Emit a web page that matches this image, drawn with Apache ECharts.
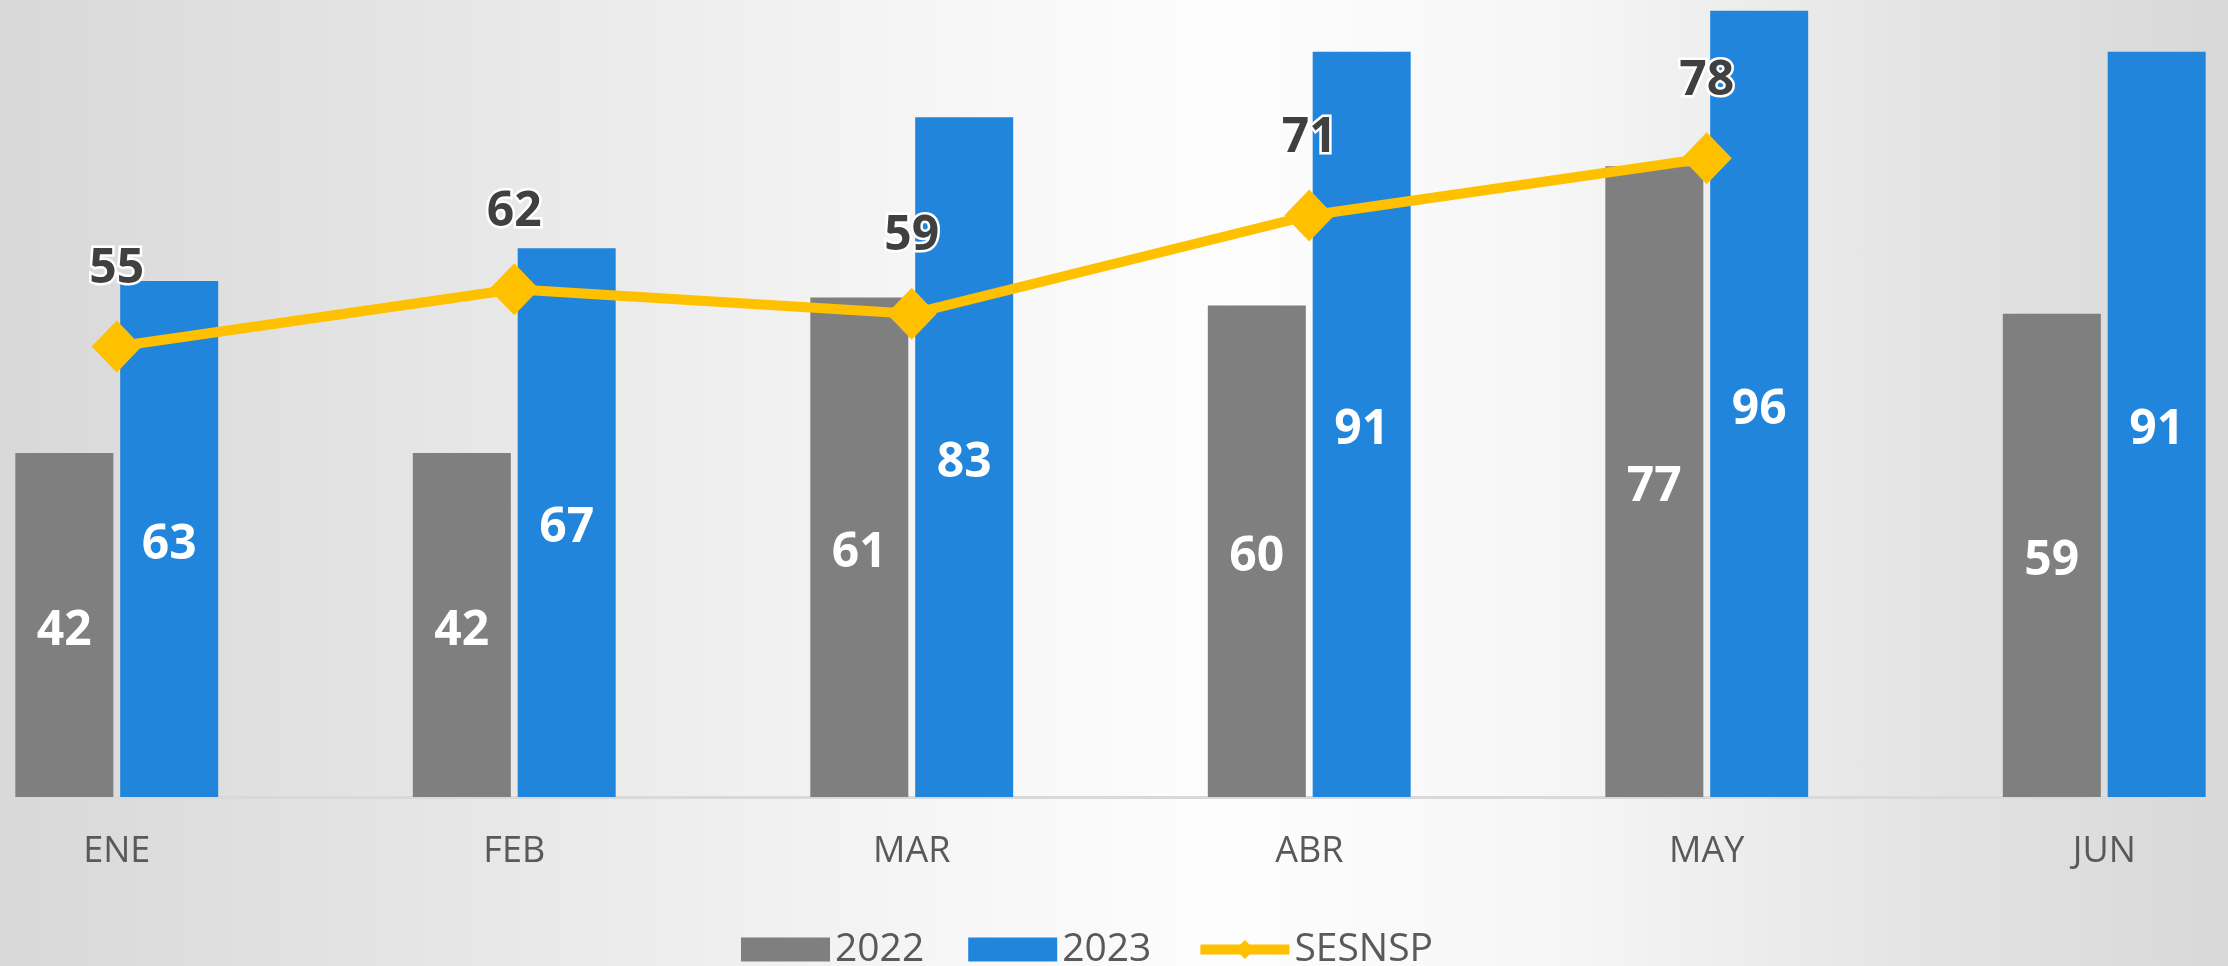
<!DOCTYPE html>
<html>
<head>
<meta charset="utf-8">
<script src="https://cdn.jsdelivr.net/npm/echarts@6/dist/echarts.min.js"></script>
<style>
  html, body { margin: 0; padding: 0; }
  body {
    width: 2228px;
    height: 966px;
    overflow: hidden;
    position: relative;
    background: linear-gradient(90deg, #d8d8d8 0%, #e6e6e6 20%, #f6f6f6 42%, #fdfdfd 55%, #f6f6f6 70%, #e4e4e4 86%, #d8d8d8 100%);
  }
  /* the source picture is cropped: the plot runs past the left, right and top edges */
  #chart {
    position: absolute;
    left: -82px;
    top: -22px;
    width: 2385px;
    height: 988px;
  }
</style>
</head>
<body>
<div id="chart"></div>
<script>
// chart data
const months = ['ENE', 'FEB', 'MAR', 'ABR', 'MAY', 'JUN']
const values2022 = [42, 42, 61, 60, 77, 59]
const values2023 = [63, 67, 83, 91, 96, 91]
const valuesSesnsp = [55, 62, 59, 71, 78, null]

const FONT = '"Open Sans", "Noto Sans", sans-serif'

const barLabel = {
  show: true,
  position: 'inside',
  offset: [0, 6],
  color: '#ffffff',
  fontFamily: FONT,
  fontWeight: 'bold',
  fontSize: 48
}

const chart = echarts.init(document.getElementById('chart'))

chart.setOption({
  animation: false,
  textStyle: { fontFamily: FONT },
  grid: {
    left: 0,
    right: 0,
    top: 0,
    bottom: 169
  },
  legend: {
    left: 818,
    top: 947,
    itemWidth: 89,
    itemHeight: 24,
    itemGap: 44,
    lineStyle: { width: 10 },
    textStyle: {
      fontFamily: FONT,
      fontSize: 39,
      color: '#595959'
    },
    data: [
      { name: '2022', icon: 'rect' },
      { name: '2023', icon: 'rect' },
      { name: 'SESNSP' }
    ]
  },
  xAxis: {
    type: 'category',
    data: months,
    axisLine: { lineStyle: { color: '#d9d9d9', width: 3 } },
    axisTick: { show: false },
    axisLabel: {
      fontFamily: FONT,
      fontSize: 36,
      color: '#595959',
      margin: 37
    }
  },
  yAxis: {
    type: 'value',
    min: 0,
    max: 100,
    show: false,
    splitLine: { show: false }
  },
  series: [
    {
      name: '2022',
      type: 'bar',
      data: values2022,
      barWidth: 98,
      barGap: '7%',
      itemStyle: { color: '#7f7f7f' },
      label: barLabel
    },
    {
      name: '2023',
      type: 'bar',
      data: values2023,
      barWidth: 98,
      itemStyle: { color: '#2185dc' },
      label: barLabel
    },
    {
      name: 'SESNSP',
      type: 'line',
      data: valuesSesnsp,
      symbol: 'diamond',
      symbolSize: [50, 52],
      lineStyle: { color: '#ffc000', width: 10 },
      itemStyle: { color: '#ffc000' },
      label: {
        show: true,
        position: 'top',
        distance: 27,
        color: '#404040',
        fontFamily: FONT,
        fontWeight: 'bold',
        fontSize: 48,
        textBorderColor: '#ffffff',
        textBorderWidth: 5
      }
    }
  ]
})
</script>
</body>
</html>
